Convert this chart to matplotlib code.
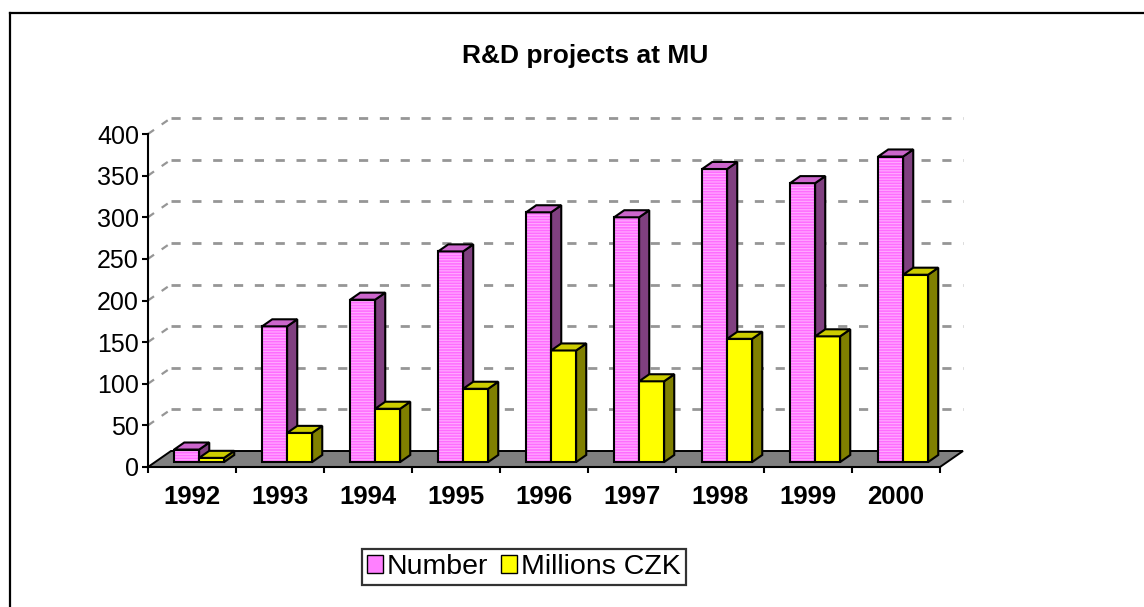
import matplotlib
matplotlib.use("Agg")
import matplotlib.pyplot as plt
from matplotlib.patches import Polygon, Patch
from matplotlib.lines import Line2D

plt.rcParams["font.family"] = ["Liberation Sans", "DejaVu Sans"]
plt.rcParams["hatch.linewidth"] = 0.9

years = ["1992", "1993", "1994", "1995", "1996", "1997", "1998", "1999", "2000"]
number = [15, 163, 195, 253, 300, 294, 352, 335, 367]
millions = [5, 35, 64, 88, 134, 97, 148, 151, 225]
series_names = ["Number", "Millions CZK"]

W, H = 1144, 607
fig = plt.figure(figsize=(W / 100, H / 100), dpi=100)

# plot area in pixels: x 148..940, y 134..467
ax = fig.add_axes([148 / W, 1 - 467 / H, 792 / W, 333 / H])
ax.set_xlim(0, len(years))
ax.set_ylim(0, 400)

px_x = len(years) / 792
px_y = 400 / 333
depth_x = 23 * px_x
depth_y = 16 * px_y
d0, d1 = 0.31, 0.75          # bar depth range as fraction of floor depth
bar_w = 25 / 88
gap = (1 - 2 * bar_w) / 2

# back wall gridlines and the dashed lines on the left wall
for v in range(50, 401, 50):
    ax.plot([depth_x, len(years) + depth_x], [v + depth_y, v + depth_y],
            color="#969696", lw=2.0, dashes=(3.3, 4.2), clip_on=False, zorder=0.5)
    ax.plot([0, depth_x], [v, v + depth_y], color="#969696", lw=1.6,
            dashes=(3.3, 4.2), clip_on=False, zorder=0.5)

# floor
floor = Polygon([(0, 0), (len(years), 0), (len(years) + depth_x, depth_y), (depth_x, depth_y)],
                closed=True, facecolor="#808080", edgecolor="black", lw=1.4,
                zorder=1, clip_on=False)
ax.add_patch(floor)

styles = [
    dict(front="#FF6CFF", stripe="#FFA8FF", side="#804080", top="#CC66CC", hatch="------"),
    dict(front="#FFFF00", stripe=None, side="#808000", top="#CCCC00", hatch=None),
]

ddx = (d1 - d0) * depth_x
ddy = (d1 - d0) * depth_y
for k, values in enumerate([number, millions]):
    st = styles[k]
    z = 3 + k
    lefts = [i + gap + k * bar_w + d0 * depth_x for i in range(len(years))]
    bottom = d0 * depth_y
    if st["hatch"]:
        ax.bar(lefts, values, width=bar_w, bottom=bottom, align="edge",
               color=st["front"], edgecolor=st["stripe"], hatch=st["hatch"],
               lw=0, zorder=z, clip_on=False)
        ax.bar(lefts, values, width=bar_w, bottom=bottom, align="edge",
               fill=False, edgecolor="black", lw=1.5, zorder=z, clip_on=False)
    else:
        ax.bar(lefts, values, width=bar_w, bottom=bottom, align="edge",
               color=st["front"], edgecolor="black", lw=1.5, zorder=z, clip_on=False)
    for x0, v in zip(lefts, values):
        x1 = x0 + bar_w
        top_y = bottom + v
        side = Polygon([(x1, bottom), (x1, top_y), (x1 + ddx, top_y + ddy), (x1 + ddx, bottom + ddy)],
                       closed=True, facecolor=st["side"], edgecolor="black", lw=1.5,
                       zorder=z, clip_on=False, joinstyle="miter")
        top = Polygon([(x0, top_y), (x1, top_y), (x1 + ddx, top_y + ddy), (x0 + ddx, top_y + ddy)],
                      closed=True, facecolor=st["top"], edgecolor="black", lw=1.5,
                      zorder=z, clip_on=False, joinstyle="miter")
        ax.add_patch(side)
        ax.add_patch(top)

# axes styling
for s in ["top", "right"]:
    ax.spines[s].set_visible(False)
ax.spines["left"].set_linewidth(1.5)
ax.spines["bottom"].set_linewidth(1.5)
ax.spines["left"].set_zorder(6)
ax.spines["bottom"].set_zorder(6)

ax.set_yticks(range(0, 401, 50))
ax.tick_params(axis="y", direction="out", length=4.5, width=1.5, pad=2, labelsize=18)
ax.set_xticks(range(len(years) + 1))
ax.set_xticklabels([])
ax.set_xticks([i + 0.5 for i in range(len(years))], minor=True)
ax.set_xticklabels(years, minor=True, fontsize=18.5, fontweight="bold")
ax.tick_params(axis="x", which="major", direction="out", length=4.5, width=1.5)
ax.tick_params(axis="x", which="minor", length=0, pad=13)
ax.patch.set_visible(False)

fig.text(585 / W, 1 - 56 / H, "R&D projects at MU", ha="center", va="center",
         fontsize=19, fontweight="bold")

handles = [Patch(facecolor="#FF80FF", edgecolor="black", lw=1.0),
           Patch(facecolor="#FFFF00", edgecolor="black", lw=1.0)]
leg = fig.legend(handles, series_names, loc="center", ncol=2,
                 bbox_to_anchor=(524 / W, 1 - 567 / H), fontsize=20.5,
                 handlelength=0.55, handleheight=0.55, handletextpad=0.15,
                 columnspacing=0.45, borderpad=0.18, fancybox=False,
                 frameon=True, edgecolor="black", borderaxespad=0)
leg.get_frame().set_linewidth(1.6)

# outer frame (top and left edges visible)
fig.add_artist(Line2D([9.5 / W, 1], [1 - 12.5 / H, 1 - 12.5 / H], color="black", lw=1.6,
                      transform=fig.transFigure))
fig.add_artist(Line2D([9.5 / W, 9.5 / W], [0, 1 - 12.5 / H], color="black", lw=1.6,
                      transform=fig.transFigure))

fig.savefig("out.png", dpi=100)
